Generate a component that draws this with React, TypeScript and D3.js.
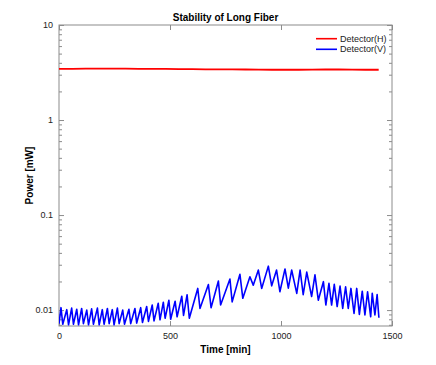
import { useEffect, useRef } from 'react';
import * as d3 from 'd3';

const chartTitle = 'Stability of Long Fiber';
const xLabel = 'Time [min]';
const yLabel = 'Power [mW]';
const seriesNames = ['Detector(H)', 'Detector(V)'];
const seriesColors = ['#ff0000', '#0000ff'];

const xTicks = [0, 500, 1000, 1500];
const yTicks = [0.01, 0.1, 1, 10];
const yTickLabels = ['0.01', '0.1', '1', '10'];

// Detector(H): nearly flat around 3.4 mW
const hTime = [0, 60, 120, 180, 240, 300, 360, 420, 480, 540, 600, 660, 720, 780, 840, 900, 960, 1020, 1080, 1140, 1200, 1260, 1320, 1380, 1440];
const hPower = [3.45, 3.46, 3.47, 3.47, 3.48, 3.47, 3.46, 3.46, 3.45, 3.44, 3.43, 3.42, 3.42, 3.41, 3.40, 3.39, 3.38, 3.38, 3.38, 3.39, 3.40, 3.40, 3.39, 3.38, 3.38];

// Detector(V): sawtooth, read peak / trough by peak / trough
const vTime = [
  0, 9, 17, 35, 43, 57, 65, 80, 88, 102, 110, 125, 133, 147, 155, 173, 181, 195, 203, 218,
  226, 240, 248, 263, 271, 287, 295, 315, 323, 342, 350, 368, 376, 395, 403, 420, 428, 447, 455, 470,
  478, 495, 503, 523, 532, 553, 561, 577, 587, 625, 635, 673, 685, 718, 728, 770, 780, 815, 828, 860,
  875, 898, 913, 943, 958, 980, 995, 1018, 1033, 1048, 1071, 1086, 1100, 1116, 1138, 1153, 1168, 1191, 1202, 1216,
  1228, 1240, 1253, 1266, 1278, 1291, 1303, 1315, 1329, 1341, 1353, 1366, 1378, 1390, 1404, 1411, 1423, 1433, 1441,
];
const vPower = [
  0.0072, 0.0106, 0.0071, 0.0101, 0.0070, 0.0105, 0.0071, 0.0102, 0.0070, 0.0104, 0.0072, 0.0100, 0.0070, 0.0103, 0.0071, 0.0105, 0.0070, 0.0101, 0.0071, 0.0104,
  0.0072, 0.0101, 0.0070, 0.0105, 0.0072, 0.0100, 0.0071, 0.0102, 0.0072, 0.0104, 0.0073, 0.0106, 0.0074, 0.0109, 0.0076, 0.0113, 0.0077, 0.0118, 0.0079, 0.0121,
  0.0082, 0.0127, 0.0080, 0.0124, 0.0085, 0.0140, 0.0088, 0.0145, 0.0082, 0.0169, 0.0104, 0.0186, 0.0106, 0.0202, 0.0113, 0.0212, 0.0122, 0.0238, 0.0133, 0.0224,
  0.0183, 0.0264, 0.0169, 0.0290, 0.0180, 0.0264, 0.0156, 0.0271, 0.0170, 0.0264, 0.0150, 0.0264, 0.0145, 0.0251, 0.0139, 0.0235, 0.0127, 0.0199, 0.0113, 0.0191,
  0.0113, 0.0187, 0.0109, 0.0179, 0.0104, 0.0176, 0.0104, 0.0169, 0.0092, 0.0169, 0.0090, 0.0158, 0.0089, 0.0156, 0.0085, 0.0150, 0.0089, 0.0146, 0.0083,
];

const FONT = "'Liberation Sans', Arial, Helvetica, sans-serif";

function App() {
  const svgRef = useRef<SVGSVGElement>(null);

  useEffect(() => {
    const W = 436;
    const H = 365;
    const margin = { top: 25, right: 44, bottom: 39, left: 59 };
    const width = W - margin.left - margin.right;
    const height = H - margin.top - margin.bottom;

    d3.select(svgRef.current).selectAll('*').remove();

    const svg = d3.select(svgRef.current)
      .attr('width', W)
      .attr('height', H);

    const g = svg.append('g')
      .attr('transform', `translate(${margin.left},${margin.top})`);

    const x = d3.scaleLinear().domain([0, 1500]).range([0, width]);
    const y = d3.scaleLog().domain([0.0068, 10]).range([height, 0]);

    const minorTicks: number[] = [];
    [0.001, 0.01, 0.1, 1].forEach((d) => {
      for (let k = 2; k <= 9; k++) {
        const v = d * k;
        if (v >= 0.0068 && v <= 10) minorTicks.push(v);
      }
    });

    // clip
    svg.append('defs').append('clipPath').attr('id', 'plot-clip')
      .append('rect').attr('width', width).attr('height', height);

    const styleAxis = (sel: any, labels: boolean) => {
      sel.select('.domain').remove();
      sel.selectAll('line').attr('stroke', '#8c8c8c');
      sel.selectAll('text')
        .attr('fill', labels ? '#222' : 'none')
        .style('font-family', FONT)
        .style('font-size', '9px');
    };

    // Axes (ticks pointing inward)
    g.append('g')
      .attr('transform', `translate(0,${height})`)
      .call(d3.axisBottom(x).tickValues(xTicks).tickSize(-5).tickSizeOuter(0).tickPadding(7).tickFormat(d3.format('d')))
      .call((s: any) => styleAxis(s, true));

    g.append('g')
      .call(d3.axisTop(x).tickValues(xTicks).tickSize(-5).tickSizeOuter(0).tickFormat(() => ''))
      .call((s: any) => styleAxis(s, false));

    g.append('g')
      .call(d3.axisLeft(y).tickValues(yTicks).tickSize(-5).tickSizeOuter(0).tickPadding(6)
        .tickFormat((d: any, i: number) => yTickLabels[i]))
      .call((s: any) => styleAxis(s, true));

    g.append('g')
      .call(d3.axisLeft(y).tickValues(minorTicks).tickSize(-3).tickSizeOuter(0).tickFormat(() => ''))
      .call((s: any) => styleAxis(s, false));

    g.append('g')
      .attr('transform', `translate(${width},0)`)
      .call(d3.axisRight(y).tickValues(yTicks).tickSize(-5).tickSizeOuter(0).tickFormat(() => ''))
      .call((s: any) => styleAxis(s, false));

    g.append('g')
      .attr('transform', `translate(${width},0)`)
      .call(d3.axisRight(y).tickValues(minorTicks).tickSize(-3).tickSizeOuter(0).tickFormat(() => ''))
      .call((s: any) => styleAxis(s, false));

    // Frame
    g.append('rect')
      .attr('width', width)
      .attr('height', height)
      .attr('fill', 'none')
      .attr('stroke', '#8c8c8c')
      .attr('stroke-width', 1);

    // Lines
    const line = d3.line<[number, number]>()
      .x((d) => x(d[0]))
      .y((d) => y(d[1]));

    const plot = g.append('g').attr('clip-path', 'url(#plot-clip)');

    plot.append('path')
      .datum(hTime.map((t, i) => [t, hPower[i]] as [number, number]))
      .attr('fill', 'none')
      .attr('stroke', seriesColors[0])
      .attr('stroke-width', 1.8)
      .attr('d', line);

    plot.append('path')
      .datum(vTime.map((t, i) => [t, vPower[i]] as [number, number]))
      .attr('fill', 'none')
      .attr('stroke', seriesColors[1])
      .attr('stroke-width', 1.6)
      .attr('stroke-linejoin', 'round')
      .attr('d', line);

    // Legend
    const legend = g.append('g').attr('transform', `translate(${width - 76},${13.7})`);
    seriesNames.forEach((name, i) => {
      const row = legend.append('g').attr('transform', `translate(0,${i * 10.6})`);
      row.append('line')
        .attr('x1', 0).attr('x2', 21)
        .attr('stroke', seriesColors[i])
        .attr('stroke-width', 1.6);
      row.append('text')
        .attr('x', 24)
        .attr('dy', '0.35em')
        .attr('fill', '#222')
        .style('font-family', FONT)
        .style('font-size', '9px')
        .text(name);
    });

    // Title
    svg.append('text')
      .attr('x', margin.left + width / 2)
      .attr('y', 21)
      .attr('text-anchor', 'middle')
      .style('font-family', FONT)
      .style('font-size', '10px')
      .style('font-weight', 'bold')
      .text(chartTitle);

    // X label
    svg.append('text')
      .attr('x', margin.left + width / 2)
      .attr('y', 353)
      .attr('text-anchor', 'middle')
      .style('font-family', FONT)
      .style('font-size', '10px')
      .style('font-weight', 'bold')
      .text(xLabel);

    // Y label
    svg.append('text')
      .attr('transform', 'rotate(-90)')
      .attr('x', -(margin.top + height / 2))
      .attr('y', 33)
      .attr('text-anchor', 'middle')
      .style('font-family', FONT)
      .style('font-size', '10px')
      .style('font-weight', 'bold')
      .text(yLabel);
  }, []);

  return (
    <svg ref={svgRef} style={{ position: 'absolute', left: 0, top: 0, background: '#fff' }}></svg>
  );
}

export default App;
